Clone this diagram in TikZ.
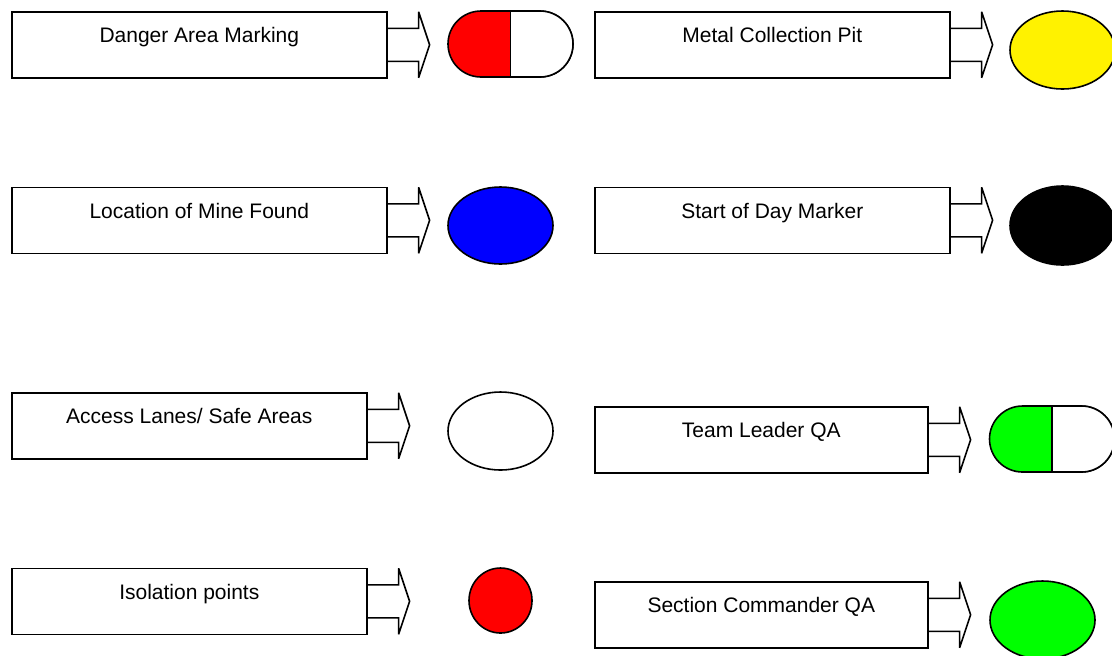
\documentclass[tikz,border=0pt]{standalone}
\usepackage{fontspec}
\setmainfont{Liberation Sans}
\usetikzlibrary{shapes.geometric,shapes.misc}
\newcommand{\blockarrow}[1]{%
  \draw[outline, miter limit=3] (#1.east) ++(0,-16.5) -- ++(31,0) -- ++(0,-16.5) -- ++(11,33)
    -- ++(-11,33) -- ++(0,-16.5) -- ++(-31,0);}
\newcommand{\halfwhite}[1]{%
  \begin{scope}
    \clip ([yshift=5pt]#1.north) rectangle ([xshift=40pt, yshift=-5pt]#1.south);
    \node[capsule] at (#1) {};
  \end{scope}
  \draw[outline] (#1.north) -- (#1.south);}
\begin{document}
\begin{tikzpicture}[x=0.5pt, y=-0.5pt,
    outline/.style={draw=black, line width=0.8pt},
    labelbox/.style={outline, rectangle, anchor=north west, inner xsep=0pt, inner ysep=0pt,
      minimum height=33pt, text height=15.5pt, text depth=17.5pt,
      font=\fontsize{10.5}{12.6}\selectfont},
    marker/.style={outline, ellipse, inner sep=0pt},
    capsule/.style={outline, rounded rectangle, inner sep=0pt, fill=white,
      minimum width=62.5pt, minimum height=33pt}]
        \useasboundingbox (0,0) rectangle (1112,655);

        \node[labelbox, minimum width=187.5pt] (danger) at (11,11) {Danger Area Marking};
        \node[labelbox, minimum width=177.5pt] (metal) at (594,11) {Metal Collection Pit};
        \node[labelbox, minimum width=187.5pt] (mine) at (11,186.5) {Location of Mine Found};
        \node[labelbox, minimum width=177.5pt] (startday) at (594,186.5) {Start of Day Marker};
        \node[labelbox, minimum width=177.5pt] (access) at (11,392) {Access Lanes/ Safe Areas};
        \node[labelbox, minimum width=166.5pt] (teamqa) at (594,406) {Team Leader QA};
        \node[labelbox, minimum width=177.5pt] (isolation) at (11,567.5) {Isolation points};
        \node[labelbox, minimum width=166.5pt] (sectionqa) at (594,581) {Section Commander QA};

        \foreach \b in {danger,metal,mine,startday,access,teamqa,isolation,sectionqa}
            {\blockarrow{\b}}

        \node[capsule, fill=red] (danger-m) at (510.5,44) {};
        \halfwhite{danger-m}
        \node[marker, fill=yellow, minimum width=52.5pt, minimum height=39pt] (metal-m) at (1062.5,50) {};
        \node[marker, fill=blue, minimum width=52.5pt, minimum height=38.5pt] (mine-m) at (500.5,225.5) {};
        \node[marker, fill=black, minimum width=52.5pt, minimum height=39.5pt] (startday-m) at (1062.5,225.5) {};
        \node[marker, fill=white, minimum width=52.5pt, minimum height=39pt] (access-m) at (500.5,431) {};
        \node[capsule, fill=green] (teamqa-m) at (1052,439) {};
        \halfwhite{teamqa-m}
        \node[marker, fill=red, minimum width=31.5pt, minimum height=32.5pt] (isolation-m) at (500.5,600.5) {};
        \node[marker, fill=green, minimum width=52.5pt, minimum height=39pt] (sectionqa-m) at (1042.5,620) {};

    \end{tikzpicture}
\end{document}
